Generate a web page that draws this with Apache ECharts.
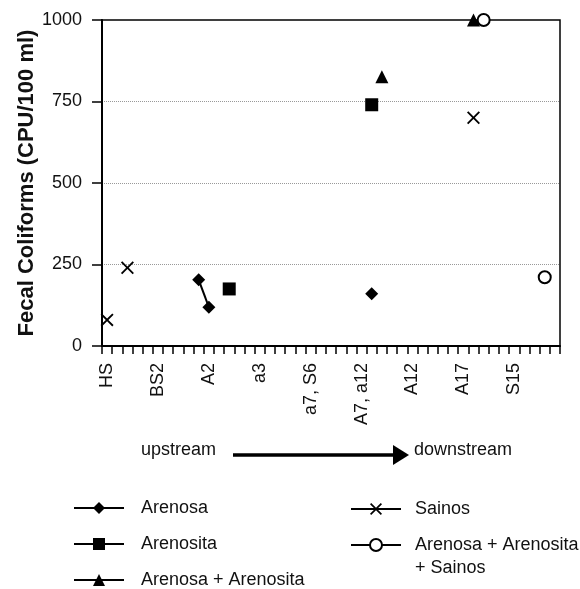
<!DOCTYPE html>
<html>
<head>
<meta charset="utf-8">
<script src="https://cdn.jsdelivr.net/npm/echarts@6/dist/echarts.min.js"></script>
<style>
  html, body { margin: 0; padding: 0; background: #fff; }
  #chart { width: 580px; height: 589px; }
</style>
</head>
<body>
<div id="chart"></div>
<script>
// stations along the river, one label every 5 slots
const stations = ['HS', 'BS2', 'A2', 'a3', 'a7, S6', 'A7, a12', 'A12', 'A17', 'S15']
const slotsPerStation = 5
const slotCount = 45

// slot index on the x axis + fecal coliforms value
const arenosaSlots = [9, 10, 26]
const arenosaValues = [203, 119, 160]
const arenositaSlots = [12, 26]
const arenositaValues = [175, 740]
const bothSlots = [27, 36]
const bothValues = [826, 1000]
const sainosSlots = [0, 2, 36]
const sainosValues = [80, 240, 700]
const allSlots = [37, 43]
const allValues = [1000, 211]

const yTicks = [0, 250, 500, 750, 1000]

const FONT = '"Liberation Sans", Arial, sans-serif'
const crossPath = 'path://M0,1.2L1.2,0L6,4.8L10.8,0L12,1.2L7.2,6L12,10.8L10.8,12L6,7.2L1.2,12L0,10.8L4.8,6Z'

// category list: station name on every 5th slot, unique placeholder otherwise
const categories = []
for (let i = 0; i < slotCount; i++) {
  categories.push(i % slotsPerStation === 0 ? stations[i / slotsPerStation] : '_' + i)
}

function fill(slots, values) {
  const arr = new Array(slotCount).fill('-')
  slots.forEach((s, i) => { arr[s] = values[i] })
  return arr
}

function makeSeries(name, symbol, size, slots, values) {
  return {
    name: name,
    type: 'line',
    data: fill(slots, values),
    symbol: symbol,
    symbolSize: size,
    showAllSymbol: true,
    connectNulls: false,
    lineStyle: { color: '#000', width: 2 },
    itemStyle: { color: '#000', borderColor: '#000', borderWidth: symbol === 'emptyCircle' ? 1.6 : 0 },
    emphasis: { disabled: true }
  }
}

function legendAt(name, left, top, padLeft, extra) {
  return Object.assign({
    data: [name],
    left: left,
    top: top,
    padding: 0,
    itemWidth: 50,
    itemHeight: 15,
    selectedMode: false,
    textStyle: { fontFamily: FONT, fontSize: 18, color: '#111', lineHeight: 23, padding: [0, 0, 0, padLeft] }
  }, extra || {})
}

const chart = echarts.init(document.getElementById('chart'))

const option = {
  animation: false,
  backgroundColor: '#fff',
  grid: {
    left: 102, right: 20, top: 20, bottom: 243,
    show: true, borderColor: '#000', borderWidth: 1.5, containLabel: false
  },
  xAxis: {
    type: 'category',
    data: categories,
    boundaryGap: true,
    axisLine: { lineStyle: { color: '#000', width: 2 } },
    axisTick: { show: true, interval: 0, length: 8, lineStyle: { color: '#000', width: 1.5 } },
    axisLabel: {
      interval: slotsPerStation - 1,
      rotate: 90,
      margin: 17,
      fontFamily: FONT,
      fontSize: 18,
      color: '#111'
    },
    splitLine: { show: false }
  },
  yAxis: {
    type: 'value',
    min: yTicks[0],
    max: yTicks[yTicks.length - 1],
    interval: 250,
    name: 'Fecal Coliforms (CPU/100 ml)',
    nameLocation: 'middle',
    nameGap: 64,
    nameMoveOverlap: false,
    nameTextStyle: { fontFamily: FONT, fontSize: 22, fontWeight: 'bold', color: '#111' },
    axisLine: { show: true, lineStyle: { color: '#000', width: 2 } },
    axisTick: { show: true, length: 10, lineStyle: { color: '#000', width: 1.5 } },
    axisLabel: {
      margin: 20, fontFamily: FONT, fontSize: 18, color: '#111',
      formatter: function (v) { return String(v) }
    },
    splitLine: {
      show: true, showMinLine: false, showMaxLine: false,
      lineStyle: { color: '#999', type: 'dotted', width: 1 }
    }
  },
  legend: [
    legendAt('Arenosa', 73, 508 - 11.5, 12),
    legendAt('Arenosita', 73, 544 - 11.5, 12),
    legendAt('Arenosa + Arenosita', 73, 580 - 11.5, 12),
    legendAt('Sainos', 350, 509 - 11.5, 9),
    // leading empty line keeps the first text line level with the icon
    legendAt('Arenosa + Arenosita + Sainos', 350, 545 - 34.5, 9, {
      formatter: function (n) { return ' \nArenosa + Arenosita\n+ Sainos' }
    })
  ],
  graphic: [
    {
      type: 'text', left: 141, top: 441,
      style: { text: 'upstream', font: '18px "Liberation Sans", Arial, sans-serif', fill: '#111' }
    },
    {
      type: 'line', shape: { x1: 233, y1: 455, x2: 396, y2: 455 },
      style: { stroke: '#000', lineWidth: 3.5 }
    },
    {
      type: 'polygon', shape: { points: [[393, 445], [409, 455], [393, 465]] },
      style: { fill: '#000' }
    },
    {
      type: 'text', left: 414, top: 441,
      style: { text: 'downstream', font: '18px "Liberation Sans", Arial, sans-serif', fill: '#111' }
    }
  ],
  series: [
    makeSeries('Arenosa', 'diamond', 13, arenosaSlots, arenosaValues),
    makeSeries('Arenosita', 'rect', 13, arenositaSlots, arenositaValues),
    makeSeries('Arenosa + Arenosita', 'triangle', 13, bothSlots, bothValues),
    makeSeries('Sainos', crossPath, 13, sainosSlots, sainosValues),
    makeSeries('Arenosa + Arenosita + Sainos', 'emptyCircle', 12, allSlots, allValues)
  ]
}

chart.setOption(option)
</script>
</body>
</html>
